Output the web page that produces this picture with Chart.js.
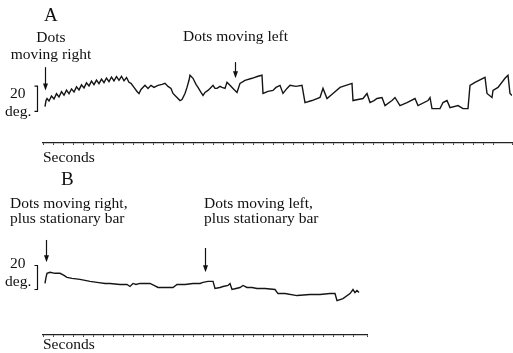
<!DOCTYPE html>
<html>
<head>
<meta charset="utf-8">
<script src="https://cdn.jsdelivr.net/npm/chart.js@4.4.1/dist/chart.umd.min.js"></script>
<style>
  html, body { margin: 0; padding: 0; background: #fff; overflow: hidden; }
  #wrap { position: relative; width: 513px; height: 353px; }
  canvas { position: absolute; left: 0; top: 0; }
  .lbl { position: absolute; font-family: "Liberation Serif", "DejaVu Serif", serif; font-size: 15.5px; line-height: 15px; color: #111; white-space: nowrap; }
  .big { font-size: 19px; }
</style>
</head>
<body>
<div id="wrap">
  <canvas id="chartA" width="513" height="353"></canvas>
  <canvas id="chartB" width="513" height="353"></canvas>

  <div class="lbl big" style="left:44px; top:7px;">A</div>
  <div class="lbl" style="left:1px; top:28px; width:100px; text-align:center; line-height:17px;">Dots<br>moving right</div>
  <div class="lbl" style="left:183px; top:28px;">Dots moving left</div>
  <div class="lbl" style="left:10px; top:85px;">20</div>
  <div class="lbl" style="left:5px; top:103px;">deg.</div>
  <div class="lbl" style="left:43px; top:149px;">Seconds</div>

  <div class="lbl big" style="left:61px; top:171px;">B</div>
  <div class="lbl" style="left:10px; top:195px;">Dots moving right,<br>plus stationary bar</div>
  <div class="lbl" style="left:204px; top:195px;">Dots moving left,<br>plus stationary bar</div>
  <div class="lbl" style="left:10px; top:255px;">20</div>
  <div class="lbl" style="left:5px; top:273px;">deg.</div>
  <div class="lbl" style="left:43px; top:336px;">Seconds</div>
</div>

<script>
// =========================
//  Data (time in s, eye position in deg)
// =========================

const timeA = [0.2, 0.3, 0.4,
  0.6, 0.85, 1.1, 1.35, 1.6, 1.85, 2.1, 2.35, 2.6, 2.85, 3.1, 3.35, 3.6, 3.85, 4.1, 4.35, 4.6, 4.85,
  5.1, 5.35, 5.6, 5.85, 6.1, 6.35, 6.6, 6.85, 7.1, 7.35, 7.6, 7.85, 8.1, 8.35, 8.6,
  8.8, 9.1, 9.4, 9.6, 9.8, 10.2,
  10.5, 10.8, 11.1, 11.5, 11.9, 12.2, 12.5, 12.8, 13.0, 13.4, 13.7, 13.9, 14.2, 14.4, 14.6, 14.7, 15.0, 15.3, 15.5, 15.8,
  16.0, 16.2, 16.5, 16.7, 17.0, 17.2, 17.4, 17.7, 17.9, 18.2, 18.4, 18.7, 19.0, 19.4, 19.7, 20.2, 20.9, 21.5, 21.9, 22.0,
  22.5, 23.0, 23.3, 23.7, 24.0, 24.4, 24.7, 25.3, 25.9, 26.2, 26.9, 27.7, 28.0, 28.4, 29.0, 29.7, 30.3, 30.9, 31.0, 31.5,
  32.0, 32.4, 32.7, 33.1, 33.4, 33.9, 34.2, 34.9, 35.2, 35.7, 36.4, 37.2, 37.5, 38.5, 38.7, 38.9, 39.7, 40.0, 40.4, 40.7,
  41.5, 42.0, 42.5, 42.7, 43.2, 44.2, 44.4, 44.9, 45.0, 45.5, 46.2, 46.5, 46.7, 46.9];
const degA = [28.8, 33.6, 35.2,
  33.2, 37.2, 34.8, 39, 36.4, 40.6, 37.8, 41.8, 39, 42.8, 40.4, 44.4, 42, 46, 43.6, 47.6, 45.2, 49,
  46.2, 49.8, 47, 50.6, 47.8, 51.4, 48.6, 52.2, 49.2, 52.6, 49.6, 52.8, 49.2, 51.8, 48,
  47.2, 44, 40.8, 39.2, 42.4, 45.6,
  43.2, 45.6, 44, 45.6, 46.4, 47.2, 44.8, 43.2, 39.2, 36, 33.6, 34.4, 39.2, 44, 49.6, 53.6, 51.2, 46.4, 44, 40,
  37.6, 40, 41.6, 43.2, 45.6, 43.2, 43.2, 44.8, 44, 43.2, 48, 45.6, 43.2, 40, 47.2, 49.6, 51.2, 52.8, 53.6, 39.2,
  40.8, 41.6, 44, 45.6, 39.2, 43.2, 45.6, 44.8, 45.6, 32, 33.6, 36, 43.2, 35.2, 39.2, 44, 45.6, 47.2, 33.6, 34.4,
  35.2, 39.2, 32, 33.6, 35.2, 36, 29.6, 33.6, 36, 29.6, 32, 35.2, 29.6, 33.6, 36, 27.2, 27.2, 32, 33.6, 28,
  29.6, 27.2, 27.2, 45.6, 48, 52, 39.2, 36, 41.6, 44, 51.2, 53.6, 39.2, 37.6];

const timeB = [0.2, 0.3, 0.4, 0.7, 1.2, 1.7, 2.1, 2.4, 2.9, 3.7, 4.7, 5.4, 6.2, 6.7, 7.7, 8.4, 8.7, 9.0, 9.3, 9.7,
  10.2, 10.7, 11.1, 11.5, 12.2, 13.0, 13.4, 14.2, 15.0, 15.7, 16.0, 16.5, 17.0, 17.2, 17.7, 18.0, 18.5, 18.7, 18.9, 19.3,
  19.7, 20.0, 20.4, 20.9, 21.4, 22.2, 23.2, 23.5, 24.2, 25.4, 26.7, 27.7, 28.7, 29.2, 29.4, 30.0, 30.7, 31.0, 31.2, 31.4, 31.6];
const degB = [40.8, 45.6, 48.8, 49.6, 48.8, 48.8, 47.2, 45.6, 44.8, 44, 42.4, 41.6, 40.8, 40.8, 40, 40, 38.4, 40.8, 40, 40.8,
  40.8, 40.8, 39.2, 37.6, 37.6, 37.6, 40, 40, 40.8, 40.8, 41.6, 42.4, 42.4, 36.8, 37.6, 38.4, 39.2, 40.8, 36, 36.8,
  37.6, 39.2, 37.6, 37.6, 36.8, 36.8, 36, 32.8, 32.8, 31.2, 32, 32, 32.8, 32.8, 27.2, 28.8, 32.8, 36, 33.6, 35.2, 33.6];

// stimulus onset arrows: [time, top deg, tip deg]
const arrowsA = [[0.2, 60, 41.6], [19.2, 64, 51.2]];
const arrowsB = [[0.3, 75.2, 57.6], [16.2, 68.8, 49.6]];

// 20 deg calibration bar: [time, from deg, to deg]
const calA = [-0.6, 25, 45];
const calB = [-0.6, 36, 55];

const spanA = 46.9;
const spanB = 32.4;


// =========================
//  Annotation plugin (arrows + scale bar)
// =========================

const marksPlugin = {
  id: "marks",
  afterDraw(chart, args, opts) {
    const ctx = chart.ctx;
    const xs = chart.scales.x, ys = chart.scales.y;
    ctx.save();
    ctx.strokeStyle = "#111";
    ctx.fillStyle = "#111";
    ctx.lineWidth = 1.2;

    for (const a of opts.arrows) {
      const x = Math.round(xs.getPixelForValue(a[0])) + 0.5;
      const y0 = ys.getPixelForValue(a[1]);
      const y1 = ys.getPixelForValue(a[2]);
      ctx.beginPath();
      ctx.moveTo(x, y0);
      ctx.lineTo(x, y1 - 5);
      ctx.stroke();
      ctx.beginPath();
      ctx.moveTo(x - 2.5, y1 - 7);
      ctx.lineTo(x + 2.5, y1 - 7);
      ctx.lineTo(x, y1);
      ctx.closePath();
      ctx.fill();
    }

    const c = opts.cal;
    const cx = Math.round(xs.getPixelForValue(c[0])) + 0.5;
    const cy0 = ys.getPixelForValue(c[1]);
    const cy1 = ys.getPixelForValue(c[2]);
    ctx.beginPath();
    ctx.moveTo(cx - 3, cy0);
    ctx.lineTo(cx, cy0);
    ctx.lineTo(cx, cy1);
    ctx.lineTo(cx - 3, cy1);
    ctx.stroke();
    ctx.restore();
  }
};


// =========================
//  Chart builder
// =========================

function makeChart(id, times, degs, span, pad, arrows, cal) {
  const pts = times.map((t, i) => ({ x: t, y: degs[i] }));
  return new Chart(document.getElementById(id), {
    type: "line",
    data: {
      datasets: [{
        data: pts,
        borderColor: "#151515",
        borderWidth: 1.4,
        pointRadius: 0,
        tension: 0,
      }],
    },
    options: {
      responsive: false,
      animation: false,
      events: [],
      layout: { padding: pad },
      scales: {
        x: {
          type: "linear",
          min: 0,
          max: span,
          ticks: { display: false, stepSize: 1 },
          grid: { drawOnChartArea: false, tickLength: 2, color: "#444", lineWidth: 1 },
          border: { display: true, color: "#222", width: 1.3 },
        },
        y: { display: false, min: 0, max: 72 },
      },
      plugins: {
        legend: { display: false },
        tooltip: { enabled: false },
        marks: { arrows: arrows, cal: cal },
      },
    },
    plugins: [marksPlugin],
  });
}


// =========================
//  Initialization
// =========================

makeChart("chartA", timeA, degA, spanA, { left: 43, right: 1, top: 52, bottom: 208 }, arrowsA, calA);
makeChart("chartB", timeB, degB, spanB, { left: 43, right: 146, top: 244, bottom: 16 }, arrowsB, calB);
</script>
</body>
</html>
